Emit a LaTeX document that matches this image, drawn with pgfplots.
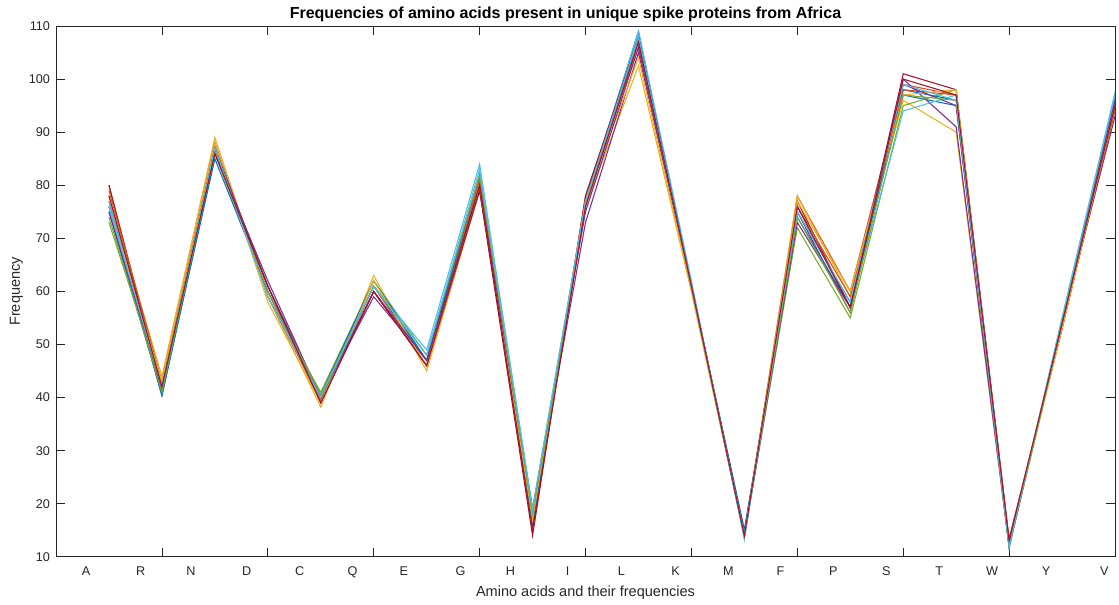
\documentclass[border=0pt]{standalone}
\usepackage{pgfplots}
\pgfplotsset{compat=1.18}
\usepackage{fontspec}
\setmainfont{Liberation Sans}

% MATLAB default line colour order
\definecolor{c1}{rgb}{0,0.447,0.741}
\definecolor{c2}{rgb}{0.850,0.325,0.098}
\definecolor{c3}{rgb}{0.929,0.694,0.125}
\definecolor{c4}{rgb}{0.494,0.184,0.556}
\definecolor{c5}{rgb}{0.466,0.674,0.188}
\definecolor{c6}{rgb}{0.301,0.745,0.933}
\definecolor{c7}{rgb}{0.635,0.078,0.184}
\definecolor{axgray}{rgb}{0.15,0.15,0.15}

% amino acid order: A R N D C Q E G H I L K M F P S T W Y V  (x = 1..20)
\newcommand{\seqline}[1]{\addplot+[no marks] coordinates {#1};}

\begin{document}
\begin{tikzpicture}
\begin{axis}[
  scale only axis,
  width=794pt, height=398pt,
  xmin=0, xmax=20, ymin=10, ymax=110,
  ytick={10,20,...,110},
  xtick={2,4,...,18},
  xticklabels={},
  extra x ticks={0.57,1.60,2.55,3.60,4.60,5.60,6.57,7.64,8.58,9.66,10.68,11.70,12.70,13.68,14.68,15.68,16.68,17.68,18.70,19.80},
  extra x tick labels={A,R,N,D,C,Q,E,G,H,I,L,K,M,F,P,S,T,W,Y,V},
  extra x tick style={major tick length=0pt, tick style={draw=none}},
  tick align=inside,
  major tick length=7pt,
  tick style={axgray, line width=0.6pt},
  axis line style={axgray, line width=0.6pt},
  every tick label/.append style={font=\fontsize{9.5}{11}\selectfont, text=axgray},
  /pgf/number format/assume math mode=true,
  xticklabel style={yshift=-4pt},
  yticklabel style={xshift=-1pt},
  title={\bfseries Frequencies of amino acids present in unique spike proteins from Africa},
  title style={font=\fontsize{12}{14}\selectfont, text=black, at={(0.5,1)}, anchor=south, yshift=-6.5pt, xshift=-15pt},
  xlabel={Amino acids and their frequencies},
  ylabel={Frequency},
  label style={font=\fontsize{10.9}{13}\selectfont, text=axgray},
  xlabel style={yshift=1pt},
  ylabel style={yshift=-2.5pt},
  cycle list={{c1},{c2},{c3},{c4},{c5},{c6},{c7}},
  every axis plot/.append style={line width=0.8pt},
]
\seqline{(1,77)(2,40.3)(3,86)(4,61)(5,40)(6,61)(7,47)(8,81)(9,17)(10,77)(11,109)(12,61)(13,14)(14,75)(15,58)(16,97)(17,95)(18,12)(19,54)(20,97)}
\seqline{(1,80)(2,42)(3,87)(4,60)(5,39)(6,60)(7,46)(8,80)(9,16)(10,78)(11,107)(12,61)(13,14)(14,78)(15,60)(16,99)(17,97)(18,13.5)(19,53)(20,95)}
\seqline{(1,78)(2,44)(3,89)(4,59)(5,38.2)(6,63)(7,45)(8,79)(9,18)(10,76)(11,102.5)(12,60)(13,14)(14,78)(15,59)(16,96)(17,90)(18,12)(19,54)(20,94)}
\seqline{(1,76)(2,41)(3,86)(4,62)(5,40)(6,59)(7,47)(8,79)(9,18)(10,73)(11,105)(12,61)(13,15)(14,75)(15,56)(16,100)(17,91)(18,12)(19,54)(20,93)}
\seqline{(1,73)(2,42)(3,88)(4,59)(5,41)(6,62)(7,48)(8,81)(9,17)(10,76)(11,107)(12,61)(13,14)(14,72)(15,55)(16,95)(17,98)(18,12)(19,54)(20,96)}
\seqline{(1,77)(2,43)(3,86)(4,60)(5,40)(6,61)(7,49)(8,84)(9,19)(10,77)(11,109)(12,62)(13,13.2)(14,76)(15,57)(16,94)(17,97)(18,11.5)(19,55)(20,97.5)}
\seqline{(1,80)(2,41)(3,87)(4,61)(5,39)(6,60)(7,46)(8,79)(9,14)(10,78)(11,108)(12,61)(13,14)(14,77)(15,57)(16,101)(17,98)(18,13)(19,53)(20,95)}
\seqline{(1,75)(2,40.5)(3,85)(4,60)(5,40.5)(6,62)(7,47)(8,82)(9,16)(10,77)(11,108)(12,61)(13,15)(14,74)(15,57)(16,98)(17,96)(18,12)(19,54)(20,96)}
\seqline{(1,79)(2,43)(3,88)(4,59)(5,39.5)(6,61)(7,46)(8,81)(9,18)(10,77)(11,106)(12,61)(13,14)(14,76)(15,59)(16,98)(17,97)(18,12.5)(19,54)(20,94)}
\seqline{(1,76)(2,43)(3,88)(4,58)(5,39)(6,62)(7,46)(8,80)(9,17)(10,77)(11,104)(12,60)(13,14)(14,77)(15,60)(16,97)(17,98)(18,12)(19,53)(20,95)}
\seqline{(1,75)(2,42)(3,87)(4,61)(5,40)(6,60)(7,47)(8,80)(9,19)(10,75)(11,106)(12,61)(13,14)(14,73)(15,57)(16,99)(17,95)(18,12)(19,54)(20,96)}
\seqline{(1,74)(2,41)(3,86)(4,60)(5,40.5)(6,61)(7,48)(8,82)(9,18)(10,76)(11,107)(12,61)(13,14)(14,74)(15,56)(16,97)(17,96)(18,12)(19,54)(20,95)}
\seqline{(1,76)(2,42)(3,87)(4,59)(5,40)(6,61)(7,48)(8,83)(9,19)(10,77)(11,108)(12,61)(13,14)(14,75)(15,58)(16,99)(17,96)(18,12)(19,55)(20,97)}
\seqline{(1,78)(2,42)(3,86)(4,61)(5,39)(6,60)(7,46)(8,80)(9,15)(10,76)(11,107)(12,61)(13,14)(14,76)(15,57)(16,100)(17,97)(18,13)(19,54)(20,95)}
\end{axis}
\pgfresetboundingbox
\path (current axis.south west) ++(-42pt,-36pt) coordinate (bbsw);
\path (current axis.north east) ++(3pt,19.5pt) coordinate (bbne);
\useasboundingbox (bbsw) rectangle (bbne);
\end{tikzpicture}
\end{document}
